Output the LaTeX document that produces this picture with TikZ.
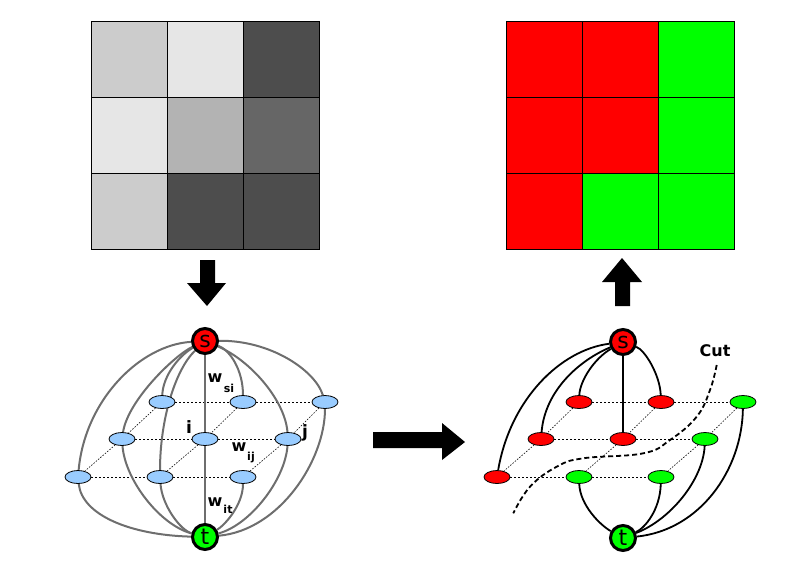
\documentclass[tikz,border=0pt]{standalone}
\usepackage{fontspec}
\setmainfont{DejaVu Sans}
\setsansfont{DejaVu Sans}
\usetikzlibrary{shapes.geometric,backgrounds}
\definecolor{nodeblue}{HTML}{99CCFF}
\definecolor{edgegray}{HTML}{6E6E6E}
\definecolor{pred}{HTML}{FF0000}
\definecolor{pgreen}{HTML}{00FF00}
\definecolor{gA}{HTML}{CCCCCC}
\definecolor{gB}{HTML}{E6E6E6}
\definecolor{gC}{HTML}{B3B3B3}
\definecolor{gD}{HTML}{4D4D4D}
\definecolor{gE}{HTML}{666666}
\begin{document}
\begin{tikzpicture}[x=1pt,y=-1pt,
  pix/.style={ellipse,draw=black,line width=0.8pt,minimum width=26pt,minimum height=13pt,inner sep=0pt},
  bluepix/.style={pix,fill=nodeblue},
  redpix/.style={pix,fill=pred},
  greenpix/.style={pix,fill=pgreen},
  term/.style={circle,draw=black,line width=3pt,minimum size=25pt,inner sep=0pt,font=\fontsize{22}{22}\selectfont},
  grayedge/.style={draw=edgegray,line width=2pt},
  blackedge/.style={draw=black,line width=1.8pt},
  gridh/.style={draw=black,line width=1pt,dash pattern=on 2pt off 2pt},
  gridd/.style={draw=black,line width=0.6pt,dash pattern=on 1.5pt off 1.5pt},
  wlbl/.style={font=\fontsize{16}{16}\selectfont\bfseries,inner sep=0pt},
  sublbl/.style={font=\fontsize{11}{11}\selectfont\bfseries,inner sep=0pt},
  ijlbl/.style={font=\fontsize{17}{17}\selectfont\bfseries,inner sep=0pt},
  cell/.style={draw=black,line width=1pt},
  cutline/.style={draw=black,line width=1.8pt,dash pattern=on 5pt off 3pt}]
\useasboundingbox (0,0) rectangle (808,584);

% ---------- image grids ----------
\foreach \c [count=\i from 0] in {gA,gB,gD,gB,gC,gE,gA,gD,gD}{
  \pgfmathtruncatemacro\col{mod(\i,3)}
  \pgfmathtruncatemacro\row{div(\i,3)}
  \path[cell,fill=\c] ({91+76*\col},{21+76*\row}) rectangle ++(76,76);
}
\foreach \c [count=\i from 0] in {pred,pred,pgreen,pred,pred,pgreen,pred,pgreen,pgreen}{
  \pgfmathtruncatemacro\col{mod(\i,3)}
  \pgfmathtruncatemacro\row{div(\i,3)}
  \path[cell,fill=\c] ({506+76*\col},{21+76*\row}) rectangle ++(76,76);
}

% ---------- big arrows ----------
\fill[black] (200,260) -- (215,260) -- (215,283) -- (226,283) -- (207,306) -- (187,283) -- (200,283) -- cycle;
\fill[black] (615,306) -- (630,306) -- (630,282) -- (642,282) -- (622,258) -- (602,282) -- (615,282) -- cycle;
\fill[black] (373,432) -- (442,432) -- (442,423) -- (465,442) -- (442,460) -- (442,448) -- (373,448) -- cycle;

% ---------- left graph ----------
\node[term,fill=pred] (s) at (205,341) {s};
\node[term,fill=pgreen] (t) at (205,537) {t};
\node[bluepix] (TL) at (162,402) {};
\node[bluepix] (TM) at (243,402) {};
\node[bluepix] (TR) at (325,402) {};
\node[bluepix] (ML) at (122,439) {};
\node[bluepix] (MC) at (205,439) {};
\node[bluepix] (MR) at (288,439) {};
\node[bluepix] (BL) at (78,477) {};
\node[bluepix] (BM) at (160,477) {};
\node[bluepix] (BR) at (243,477) {};

\begin{pgfonlayer}{background}
  \path[gridh] (TL) -- (TM) -- (TR);
  \path[gridh] (ML) -- (MC) -- (MR);
  \path[gridh] (BL) -- (BM) -- (BR);
  \path[gridd] (TL) -- (ML) -- (BL);
  \path[gridd] (TM) -- (MC) -- (BM);
  \path[gridd] (TR) -- (MR) -- (BR);
  \path[grayedge] (s) .. controls (140,345) and (85,400) .. (BL);
  \path[grayedge] (BL) .. controls (82,515) and (130,535) .. (t);
  \path[grayedge] (s) .. controls (175,355) and (128,400) .. (ML);
  \path[grayedge] (ML) .. controls (125,480) and (160,525) .. (t);
  \path[grayedge] (s) .. controls (180,355) and (163,375) .. (TL);
  \path[grayedge] (s) .. controls (175,370) and (160,420) .. (BM);
  \path[grayedge] (BM) .. controls (162,505) and (180,530) .. (t);
  \path[grayedge] (s) -- (MC);
  \path[grayedge] (MC) -- (t);
  \path[grayedge] (s) .. controls (230,350) and (243,370) .. (TM);
  \path[grayedge] (s) .. controls (250,360) and (285,400) .. (MR);
  \path[grayedge] (MR) .. controls (285,480) and (250,525) .. (t);
  \path[grayedge] (s) .. controls (270,340) and (315,370) .. (TR);
  \path[grayedge] (TR) .. controls (325,460) and (280,530) .. (t);
  \path[grayedge] (BR) .. controls (243,505) and (225,525) .. (t);
\end{pgfonlayer}

\node[wlbl] (wsi) at (215,378) {w};
\node[sublbl] (wsisub) at (229,388) {si};
\node[ijlbl] (ilbl) at (189,427) {i};
\node[ijlbl] (jlbl) at (305,433) {j};
\node[wlbl] (wij) at (239,447) {w};
\node[sublbl] (wijsub) at (251,457) {ij};
\node[wlbl] (wit) at (215,502) {w};
\node[sublbl] (witsub) at (228,509) {it};

% ---------- right graph ----------
\node[term,fill=pred] (s2) at (623,342) {s};
\node[term,fill=pgreen] (t2) at (623,538) {t};
\node[redpix] (rTL) at (579,402) {};
\node[redpix] (rTM) at (661,402) {};
\node[greenpix] (rTR) at (743,402) {};
\node[redpix] (rML) at (541,439) {};
\node[redpix] (rMC) at (623,439) {};
\node[greenpix] (rMR) at (705,439) {};
\node[redpix] (rBL) at (497,477) {};
\node[greenpix] (rBM) at (579,477) {};
\node[greenpix] (rBR) at (661,477) {};

\begin{pgfonlayer}{background}
  \path[gridh] (rTL) -- (rTM) -- (rTR);
  \path[gridh] (rML) -- (rMC) -- (rMR);
  \path[gridh] (rBL) -- (rBM) -- (rBR);
  \path[gridd] (rTL) -- (rML) -- (rBL);
  \path[gridd] (rTM) -- (rMC) -- (rBM);
  \path[gridd] (rTR) -- (rMR) -- (rBR);
  \path[blackedge] (s2) .. controls (560,350) and (510,400) .. (rBL);
  \path[blackedge] (s2) .. controls (580,360) and (545,390) .. (rML);
  \path[blackedge] (s2) .. controls (595,358) and (580,380) .. (rTL);
  \path[blackedge] (s2) -- (rMC);
  \path[blackedge] (s2) .. controls (645,350) and (660,375) .. (rTM);
  \path[blackedge] (rBM) .. controls (580,505) and (600,525) .. (t2);
  \path[blackedge] (rBR) .. controls (660,510) and (645,528) .. (t2);
  \path[blackedge] (rMR) .. controls (703,480) and (670,520) .. (t2);
  \path[blackedge] (rTR) .. controls (742,470) and (700,530) .. (t2);
\end{pgfonlayer}

\draw[cutline] plot[smooth,tension=0.7] coordinates {(716.7,365) (710,390) (696.7,416.7) (670,440) (643.3,453.3) (583.3,458.3) (556.7,466.7) (530,486.7) (513.3,513.3)};
\node[font=\fontsize{16}{16}\selectfont\bfseries,inner sep=0pt] (cut) at (715,351) {Cut};
\end{tikzpicture}
\end{document}
